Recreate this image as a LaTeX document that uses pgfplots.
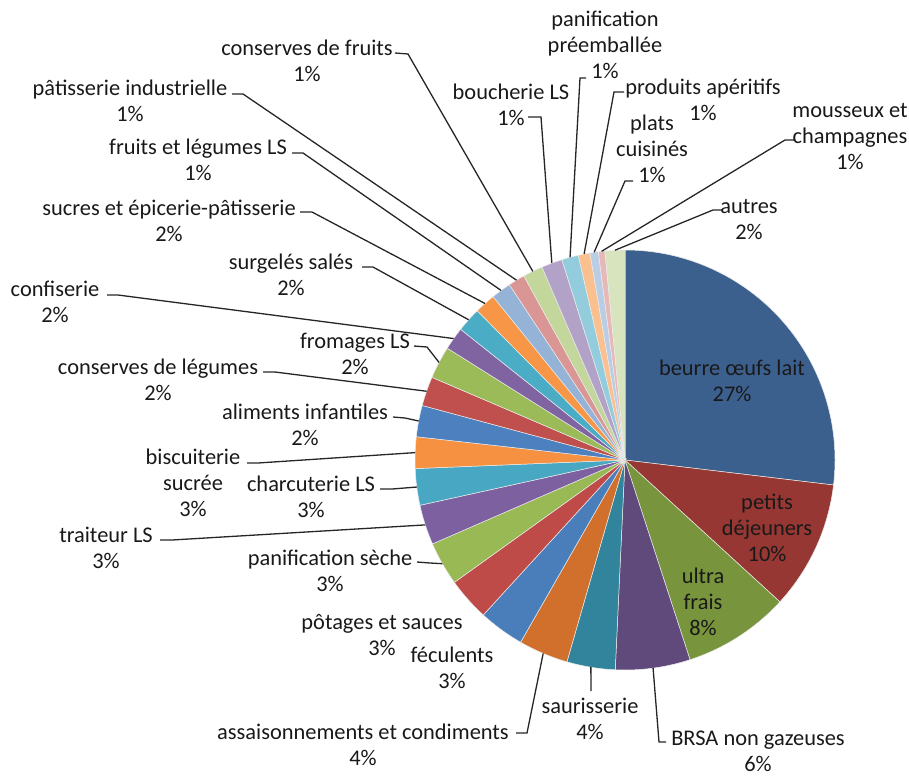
\documentclass[border=0pt]{standalone}
\usepackage{pgfplots}
\pgfplotsset{compat=1.18}
\usepackage{pgfplotstable}
\usepackage{fontspec}
\setmainfont{Carlito}
\definecolor{c1}{RGB}{60,96,142}
\definecolor{c2}{RGB}{150,55,51}
\definecolor{c3}{RGB}{120,148,60}
\definecolor{c4}{RGB}{95,74,123}
\definecolor{c5}{RGB}{49,132,155}
\definecolor{c6}{RGB}{208,112,44}
\definecolor{c7}{RGB}{74,126,187}
\definecolor{c8}{RGB}{190,75,72}
\definecolor{c9}{RGB}{152,185,84}
\definecolor{c10}{RGB}{125,96,160}
\definecolor{c11}{RGB}{72,168,195}
\definecolor{c12}{RGB}{245,145,65}
\definecolor{c13}{RGB}{76,128,190}
\definecolor{c14}{RGB}{192,80,77}
\definecolor{c15}{RGB}{155,187,89}
\definecolor{c16}{RGB}{128,100,162}
\definecolor{c17}{RGB}{75,172,198}
\definecolor{c18}{RGB}{247,150,70}
\definecolor{c19}{RGB}{149,179,215}
\definecolor{c20}{RGB}{217,150,148}
\definecolor{c21}{RGB}{195,214,155}
\definecolor{c22}{RGB}{179,162,199}
\definecolor{c23}{RGB}{147,205,221}
\definecolor{c24}{RGB}{250,192,144}
\definecolor{c25}{RGB}{185,205,229}
\definecolor{c26}{RGB}{230,185,184}
\definecolor{c27}{RGB}{215,228,189}
% val = share in percent (clockwise from 12 o'clock); lead = leader line; (ax,ay)-(bx,by) = leader start near label (pixel coords)
\pgfplotstableread[col sep=comma]{
val,col,lead,ax,ay,bx,by
26.90,c1,0,0,0,0,0
9.90,c2,0,0,0,0,0
8.19,c3,0,0,0,0,0
5.75,c4,1,666,742,659,742
3.72,c5,1,591,691,591,691
3.82,c6,1,516,733,527,733
3.51,c7,0,0,0,0,0
3.31,c8,0,0,0,0,0
3.36,c9,1,417,562,430,563
3.08,c10,1,160,540,172,540
2.81,c11,1,380,489,392,489
2.42,c12,1,247,463,258,463
2.41,c13,1,393,417,405,418
2.26,c14,1,263,372,275,372
2.50,c15,1,414,346,427,347
1.75,c16,1,107,295,118,295
1.89,c17,1,362,267,373,267
1.61,c18,1,300,212,312,212
1.53,c19,1,292,153,303,153
1.28,c20,1,232,94,243,94
1.53,c21,1,395,53,408,54
1.61,c22,1,528,117,541,117
1.29,c23,1,586,78,580,78
0.90,c24,1,624,92,614,92
0.64,c25,1,633,181,625,181
0.50,c26,1,795,140,785,140
1.53,c27,1,723,210,713,210
}\piedata

\begin{document}
\begin{tikzpicture}[font=\fontsize{11.2pt}{13pt}\selectfont]
\begin{axis}[width=454.5pt,height=388pt,scale only axis,
  xmin=0,xmax=909,ymin=0,ymax=776,y dir=reverse,hide axis,clip=false]
\path (axis cs:0,0) rectangle (axis cs:909,776);
\pgfplotstablegetrowsof{\piedata}
\pgfmathtruncatemacro\N{\pgfplotsretval-1}
% wedges
\gdef\cum{0}
\pgfplotsforeachungrouped \i in {0,...,\N}{%
  \pgfplotstablegetelem{\i}{val}\of\piedata \let\pv\pgfplotsretval
  \pgfplotstablegetelem{\i}{col}\of\piedata \let\pc\pgfplotsretval
  \pgfmathsetmacro\aS{90-3.6*\cum}%
  \pgfmathsetmacro\cumN{\cum+\pv}%
  \pgfmathsetmacro\aE{90-3.6*\cumN}%
  \global\let\cum\cumN
  \edef\temp{\noexpand\fill[\pc, draw=white!85!gray, line width=0.25pt] (axis cs:625,460) -- ++(\aS:105pt) arc[start angle=\aS, end angle=\aE, radius=105pt] -- cycle;}%
  \temp
}
% leader lines
\gdef\cum{0}
\pgfplotsforeachungrouped \i in {0,...,\N}{%
  \pgfplotstablegetelem{\i}{val}\of\piedata \let\pv\pgfplotsretval
  \pgfplotstablegetelem{\i}{lead}\of\piedata \let\ld\pgfplotsretval
  \pgfplotstablegetelem{\i}{ax}\of\piedata \let\ax\pgfplotsretval
  \pgfplotstablegetelem{\i}{ay}\of\piedata \let\ay\pgfplotsretval
  \pgfplotstablegetelem{\i}{bx}\of\piedata \let\bx\pgfplotsretval
  \pgfplotstablegetelem{\i}{by}\of\piedata \let\by\pgfplotsretval
  \pgfmathsetmacro\aS{90-3.6*\cum}%
  \pgfmathsetmacro\cumN{\cum+\pv}%
  \pgfmathsetmacro\aE{90-3.6*\cumN}%
  \pgfmathsetmacro\aM{(\aS+\aE)/2}%
  \global\let\cum\cumN
  \ifnum\ld=1
    \edef\temp{\noexpand\draw[black!85, line width=0.65pt] (axis cs:\ax,\ay) -- (axis cs:\bx,\by) -- ([shift={(\aM:105pt)}]axis cs:625,460);}%
    \temp
  \fi
}
\tikzset{every node/.style={align=center, inner sep=0pt, text=black!90}}
\node at (axis cs:732,381) {beurre œufs lait\\27\%};
\node at (axis cs:767,528) {petits\\déjeuners\\10\%};
\node at (axis cs:703,602) {ultra\\frais\\8\%};
\node at (axis cs:758,751) {BRSA non gazeuses\\6\%};
\node at (axis cs:590,719) {saurisserie\\4\%};
\node at (axis cs:363,745) {assaisonnements et condiments\\4\%};
\node at (axis cs:452,668) {féculents\\3\%};
\node at (axis cs:382,635) {pôtages et sauces\\3\%};
\node at (axis cs:330,571) {panification sèche\\3\%};
\node at (axis cs:106,548) {traiteur LS\\3\%};
\node at (axis cs:311,497) {charcuterie LS\\3\%};
\node at (axis cs:193,483) {biscuiterie\\sucrée\\3\%};
\node at (axis cs:305,425) {aliments infantiles\\2\%};
\node at (axis cs:158,380) {conserves de légumes\\2\%};
\node at (axis cs:355,354) {fromages LS\\2\%};
\node at (axis cs:55,302) {confiserie\\2\%};
\node at (axis cs:291,275) {surgelés salés\\2\%};
\node at (axis cs:169,221) {sucres et épicerie-pâtisserie\\2\%};
\node at (axis cs:198,160) {fruits et légumes LS\\1\%};
\node at (axis cs:130,101) {pâtisserie industrielle\\1\%};
\node at (axis cs:307,61) {conserves de fruits\\1\%};
\node at (axis cs:511,105) {boucherie LS\\1\%};
\node at (axis cs:605,45) {panification\\préemballée\\1\%};
\node at (axis cs:703,100) {produits apéritifs\\1\%};
\node at (axis cs:652,149) {plats\\cuisinés\\1\%};
\node at (axis cs:850,137) {mousseux et\\champagnes\\1\%};
\node at (axis cs:749,220) {autres\\2\%};
\end{axis}
\end{tikzpicture}
\end{document}
